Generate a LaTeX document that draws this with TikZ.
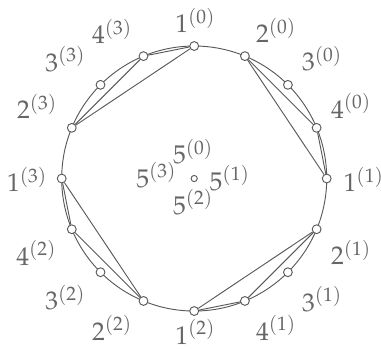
\documentclass[tikz,border=0pt]{standalone}
\usepackage{mathpazo}
\begin{document}
\begin{tikzpicture}[
    punto/.style={circle, draw=black!65, fill=white, line width=0.6pt, inner sep=0pt, minimum size=2mm},
    centro/.style={circle, draw=black!65, fill=white, line width=0.6pt, inner sep=0pt, minimum size=1.4mm},
    etichetta/.style={anchor=base west, inner sep=0pt, text=black!60, font=\fontsize{16.5}{19}\selectfont},
    corda/.style={line width=0.6pt, black!65}
]
    \useasboundingbox (-4.397,-3.906) rectangle (4.229,4.042);

    % Circonferenza
    \draw[corda] (0,0) circle (3cm);

    % Punti sul cerchio, 4 blocchi da 4
    \foreach \k in {0,...,3} {
        \foreach \j in {1,...,4} {
            \pgfmathsetmacro{\ang}{90-90*\k-22.5*(\j-1)}
            \node[punto] (p\j-\k) at (\ang:3cm) {};
        }
    }
    \node[centro] (c) at (0,0) {};

    % Corde
    \foreach \k [evaluate=\k as \kk using {int(mod(\k+1,4))}] in {0,...,3} {
        \draw[corda] (p2-\k) -- (p4-\k);
        \draw[corda] (p2-\k) -- (p1-\kk);
        \draw[corda] (p4-\k) -- (p1-\kk);
    }

    % Etichette
    \foreach \j/\k/\x/\y in {1/0/-0.435/3.310, 2/0/1.392/3.075, 3/0/2.434/2.441, 4/0/3.091/1.370,
                             1/1/3.376/-0.299, 2/1/3.091/-1.943, 3/1/2.434/-3.000, 4/1/1.392/-3.657,
                             1/2/-0.435/-3.75, 2/2/-2.321/-3.657, 3/2/-3.378/-2.962, 4/2/-4.035/-1.959,
                             1/3/-4.245/-0.299, 2/3/-4.019/1.363, 3/3/-3.378/2.434, 4/3/-2.321/3.061} {
        \node[etichetta] (l\j-\k) at (\x,\y) {$\j^{(\k)}$};
    }
    \foreach \k/\x/\y in {0/-0.487/0.330, 1/0.342/-0.260, 2/-0.487/-0.804, 3/-1.318/-0.192} {
        \node[etichetta] (l5-\k) at (\x,\y) {$5^{(\k)}$};
    }
\end{tikzpicture}
\end{document}
